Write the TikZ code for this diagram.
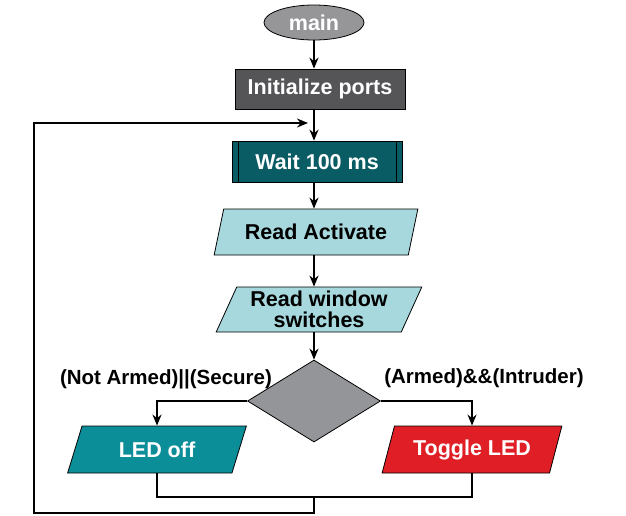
\documentclass[tikz,border=0pt]{standalone}
\usepackage{fontspec}
\setmainfont{Liberation Sans}
\usetikzlibrary{shapes.geometric, arrows.meta, positioning, calc}
\definecolor{maingray}{RGB}{150,150,153}
\definecolor{initgray}{RGB}{85,85,88}
\definecolor{waitteal}{RGB}{10,92,100}
\definecolor{readblue}{RGB}{166,216,221}
\definecolor{decgray}{RGB}{147,149,152}
\definecolor{offteal}{RGB}{12,142,153}
\definecolor{togred}{RGB}{224,30,38}

\begin{document}
\begin{tikzpicture}[
    x=1pt, y=-1pt,
    font=\bfseries\fontsize{21.5}{21}\selectfont,
    term/.style={draw, line width=0.8pt, ellipse, fill=maingray, text=white, minimum width=100pt, minimum height=35pt, inner sep=0pt},
    proc/.style={draw, line width=0.8pt, fill=initgray, text=white, minimum width=170pt, minimum height=40pt, inner sep=0pt},
    predproc/.style={draw, line width=0.8pt, fill=waitteal, text=white, minimum width=170pt, minimum height=41pt, inner sep=0pt,
        path picture={
            \draw[line width=0.8pt] ([xshift=6pt]path picture bounding box.north west) -- ([xshift=6pt]path picture bounding box.south west);
            \draw[line width=0.8pt] ([xshift=-6pt]path picture bounding box.north east) -- ([xshift=-6pt]path picture bounding box.south east);}},
    io/.style={draw, line width=0.8pt, trapezium, trapezium left angle=65, trapezium right angle=115, trapezium stretches=true,
        fill=readblue, minimum width=204pt, minimum height=46pt, inner sep=0pt, align=center},
    dec/.style={draw, line width=0.8pt, diamond, fill=decgray, minimum width=133pt, minimum height=82pt, inner sep=0pt},
    flow/.style={-{Stealth[length=11pt, width=9pt]}, line width=2.5pt},
    wire/.style={line width=2.5pt},
    cond/.style={font=\bfseries\fontsize{20.5}{20}\selectfont},
]

% --- Bounding box ---
\useasboundingbox (0,0) rectangle (626,515);

% --- Main column ---
\node[term] (main) at (314,22.5) {main};
\node[proc] (init) at (320,89) {Initialize ports};
\node[predproc] (wait) at (317,161.5) {Wait 100 ms};
\node[io] (act) at (316,232) {Read Activate};
\node[io, minimum width=206pt, minimum height=45pt] (win) at (319,309.5) {Read window\\switches};
\node[dec] (dec) at (314,401) {};

% --- Branch outputs ---
\node[io, fill=offteal, text=white, minimum width=180pt, minimum height=47pt] (off) at (157,449.5) {LED off};
\node[io, fill=togred, text=white, minimum width=180pt, minimum height=47pt] (tog) at (472,449.5) {Toggle LED};

% --- Branch conditions ---
\node[cond] (notlbl) at (166,379) {(Not Armed)||(Secure)};
\node[cond] (armlbl) at (484,378) {(Armed)\&\&(Intruder)};

% --- Helper coordinates ---
\coordinate (spine) at (314,0);
\coordinate (merge) at (314,497);
\coordinate (back) at (34,513);
\coordinate (entry) at (308,123);

% --- Straight flow ---
\draw[flow] (main) -- (spine |- init.north);
\draw[flow] (spine |- init.south) -- (spine |- wait.north);
\draw[flow] (spine |- wait.south) -- (spine |- act.north);
\draw[flow] (spine |- act.south) -- (spine |- win.north);
\draw[flow] (spine |- win.south) -- (dec.north);

% --- Decision branches ---
\draw[flow] (dec.west) -| (off.north);
\draw[flow] (dec.east) -| (tog.north);

% --- Merge and loop back ---
\draw[wire] (off.south) |- (merge) -| (tog.south);
\draw[flow] (merge) |- (back) |- (entry);

\end{tikzpicture}
\end{document}
